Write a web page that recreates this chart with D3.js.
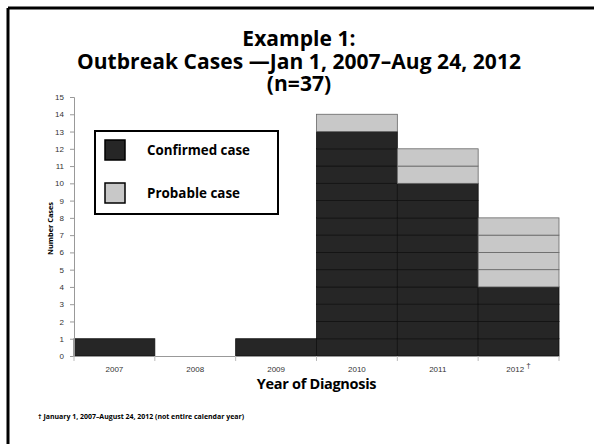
<!DOCTYPE html>
<html>
<head>
<meta charset="utf-8">
<script src="https://d3js.org/d3.v7.min.js"></script>
<style>
  html, body { margin: 0; background: #fff; overflow: hidden; }
  .ttl { font-family: "Open Sans", sans-serif; font-weight: 700; }
  .tick text { font-family: "Liberation Sans", Arial, sans-serif; }
</style>
</head>
<body>
<svg width="594" height="444"></svg>
<script>
// data
const years = ["2007", "2008", "2009", "2010", "2011", "2012"];
const confirmed = [1, 0, 1, 13, 10, 4];
const probable = [0, 0, 0, 1, 2, 4];
const yTicks = d3.range(0, 16);

const svg = d3.select("svg");
const W = 594, H = 444;
const m = { left: 74, right: 35, top: 97, bottom: 88 };

// frame (top + left only)
svg.append("line").attr("x1", 8).attr("x2", W).attr("y1", 8).attr("y2", 8)
  .attr("stroke", "#000").attr("stroke-width", 3);
svg.append("line").attr("x1", 8).attr("x2", 8).attr("y1", 8).attr("y2", H)
  .attr("stroke", "#000").attr("stroke-width", 3);

// title
const title = ["Example 1:", "Outbreak Cases \u2014Jan 1, 2007\u2013Aug 24, 2012", "(n=37)"];
const tt = svg.append("g").selectAll("text").data(title).enter().append("text")
  .attr("class", "ttl")
  .attr("x", 299).attr("y", (d, i) => 46 + i * 22.5)
  .attr("text-anchor", "middle")
  .attr("font-size", 21)
  .text(d => d);
// squeeze letters so the long line fits the same width as the original
const longW = tt.filter((d, i) => i === 1).node().getComputedTextLength();
const ls = (444 - longW) / (title[1].length - 1);
tt.attr("letter-spacing", ls);

const x = d3.scaleBand().domain(years).range([m.left, W - m.right]);
const y = d3.scaleLinear().domain([0, 15]).range([H - m.bottom, m.top]);

// unit segments for stacking
const segs = [];
years.forEach((yr, i) => {
  for (let k = 0; k < confirmed[i]; k++) segs.push({ yr, v: k, type: "c" });
  for (let k = 0; k < probable[i]; k++) segs.push({ yr, v: confirmed[i] + k, type: "p" });
});

svg.append("g").selectAll("rect").data(segs).enter().append("rect")
  .attr("x", d => x(d.yr))
  .attr("width", x.bandwidth())
  .attr("y", d => y(d.v + 1))
  .attr("height", d => y(d.v) - y(d.v + 1))
  .attr("fill", d => d.type === "c" ? "#262626" : "#c8c8c8")
  .attr("stroke", d => d.type === "c" ? "#111" : "#666")
  .attr("stroke-width", 0.8);

// y axis
const ya = svg.append("g").attr("transform", `translate(${m.left},0)`)
  .call(d3.axisLeft(y).tickValues(yTicks).tickSize(4).tickPadding(6));
ya.selectAll("path, line").attr("stroke", "#999");
ya.selectAll("text").attr("font-size", 8).attr("fill", "#333");

// x axis
const xa = svg.append("g").attr("transform", `translate(0,${H - m.bottom})`)
  .call(d3.axisBottom(x).tickSize(0).tickPadding(10));
xa.select(".domain").attr("stroke", "#999");
xa.selectAll("text").attr("font-size", 8).attr("fill", "#333");
xa.selectAll(".tick").filter(d => d === "2012").select("text")
  .append("tspan").attr("dy", -4).attr("font-size", 8).text(" \u2020");
// boundary ticks
svg.append("g").selectAll("line").data(years.concat(["end"])).enter().append("line")
  .attr("x1", (d, i) => m.left + i * x.step()).attr("x2", (d, i) => m.left + i * x.step())
  .attr("y1", H - m.bottom).attr("y2", H - m.bottom + 5)
  .attr("stroke", "#bbb");

// axis titles
svg.append("text").attr("class", "ttl")
  .attr("transform", `translate(53,${(m.top + H - m.bottom) / 2 + 2}) rotate(-90)`)
  .attr("text-anchor", "middle").attr("font-size", 7)
  .attr("textLength", 53).attr("lengthAdjust", "spacingAndGlyphs")
  .text("Number Cases");
svg.append("text").attr("class", "ttl")
  .attr("x", x("2010")).attr("y", 389).attr("text-anchor", "middle")
  .attr("font-size", 14.5).attr("letter-spacing", -0.3)
  .text("Year of Diagnosis");

// footnote
svg.append("text").attr("class", "ttl")
  .attr("x", 38).attr("y", 419).attr("font-size", 6.2)
  .attr("textLength", 206).attr("lengthAdjust", "spacingAndGlyphs")
  .text("\u2020 January 1, 2007\u2013August 24, 2012 (not entire calendar year)");

// legend
const lg = svg.append("g");
lg.append("rect").attr("x", 95).attr("y", 131).attr("width", 183).attr("height", 83)
  .attr("fill", "#fff").attr("stroke", "#000").attr("stroke-width", 2);
const legItems = [["Confirmed case", "#262626", 103], ["Probable case", "#c8c8c8", 93]];
legItems.forEach((d, i) => {
  const yy = 140 + i * 43;
  lg.append("rect").attr("x", 105).attr("y", yy).attr("width", 20).attr("height", 20)
    .attr("fill", d[1]).attr("stroke", "#000").attr("stroke-width", 1.5);
  lg.append("text").attr("class", "ttl").attr("x", 147).attr("y", yy + 15)
    .attr("font-size", 13.5).attr("textLength", d[2]).attr("lengthAdjust", "spacingAndGlyphs")
    .text(d[0]);
});
</script>
</body>
</html>
